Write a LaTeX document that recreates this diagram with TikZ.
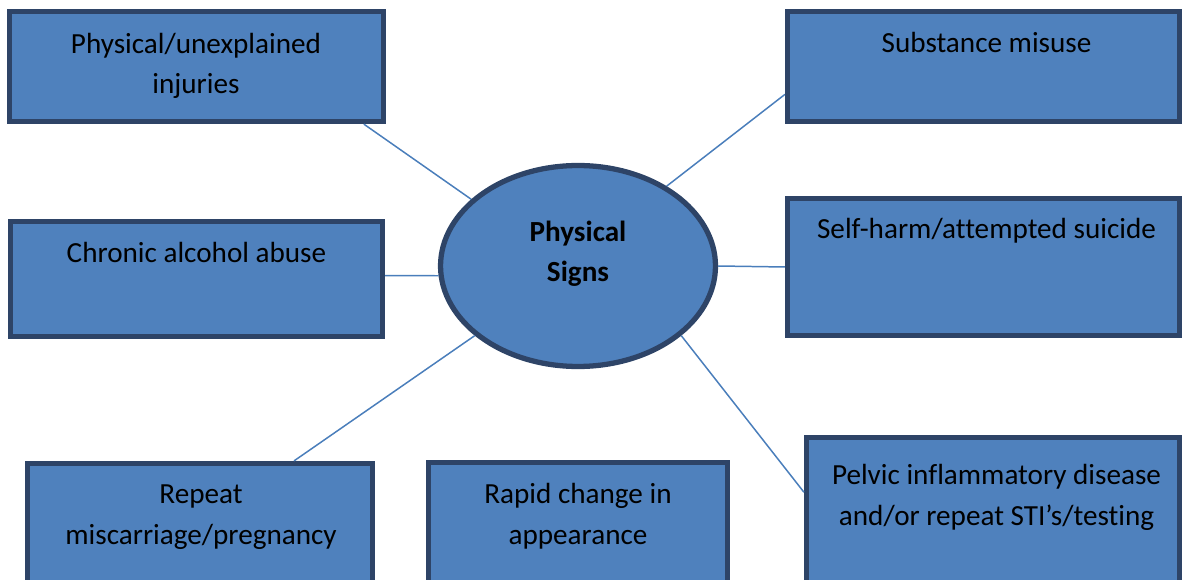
\documentclass[tikz,border=0pt]{standalone}
\usepackage{fontspec}
\setmainfont{Carlito}[Ligatures=NoCommon]
\usetikzlibrary{shapes.geometric}
\definecolor{boxfill}{HTML}{4F81BD}
\definecolor{boxedge}{HTML}{2E4467}
\definecolor{linkblue}{HTML}{4A7EBB}

\begin{document}
\begin{tikzpicture}[x=0.02cm, y=-0.02cm,
    signbox/.style={draw=boxedge, line width=3pt, fill=boxfill, inner sep=0pt},
    signtext/.style={font=\fontsize{16.6}{23.25}\selectfont, align=center, anchor=base, inner sep=0pt},
    link/.style={draw=linkblue, line width=0.85pt}]
    \useasboundingbox (0,0) rectangle (1182,580);
    \clip (0,0) rectangle (1182,580);

    % boxes round the hub
    \node[signbox, minimum width=7.48cm, minimum height=2.2cm] (inj) at (196.5,66.5) {};
    \node[signbox, minimum width=7.84cm, minimum height=2.2cm] (sub) at (983.5,66.5) {};
    \node[signbox, minimum width=7.44cm, minimum height=2.3cm] (alc) at (196.5,279) {};
    \node[signbox, minimum width=7.84cm, minimum height=2.74cm] (harm) at (983.5,267) {};
    \node[signbox, minimum width=6.9cm, minimum height=2.73cm] (preg) at (200,531.75) {};
    \node[signbox, minimum width=5.98cm, minimum height=2.75cm] (look) at (578,531.25) {};
    \node[signbox, minimum width=7.46cm, minimum height=3.25cm] (sti) at (993,518.75) {};
    \node[signbox, ellipse, minimum width=5.5cm, minimum height=4.02cm] (hub) at (578,266) {};

    % texts (multi-line nodes sit on their last baseline)
    \node[signtext] (injtext) at (196,94) {Physical/unexplained\\injuries};
    \node[signtext] (subtext) at (986.5,53) {Substance misuse};
    \node[signtext] (alctext) at (196.5,263) {Chronic alcohol abuse};
    \node[signtext] (harmtext) at (986.5,239) {Self-harm/attempted suicide};
    \node[signtext] (pregtext) at (201,544) {Repeat\\miscarriage/pregnancy};
    \node[signtext] (looktext) at (578,544) {Rapid change in\\appearance};
    \node[signtext] (stitext) at (996.5,525) {Pelvic inflammatory disease\\and/or repeat STI’s/testing};
    \node[signtext, font=\fontsize{16.6}{23.25}\selectfont\bfseries] (hubtext) at (578,282) {Physical\\Signs};

    % connectors
    \draw[link] (inj.-19) -- (hub.148);
    \draw[link] (alc.1) -- (hub.184);
    \draw[link] (hub.214) -- (preg.37);
    \draw[link] (hub.42) -- (sub.188);
    \draw[link] (hub.0) -- (harm.180);
    \draw[link] (hub.-34) -- (sti.172);
\end{tikzpicture}
\end{document}
